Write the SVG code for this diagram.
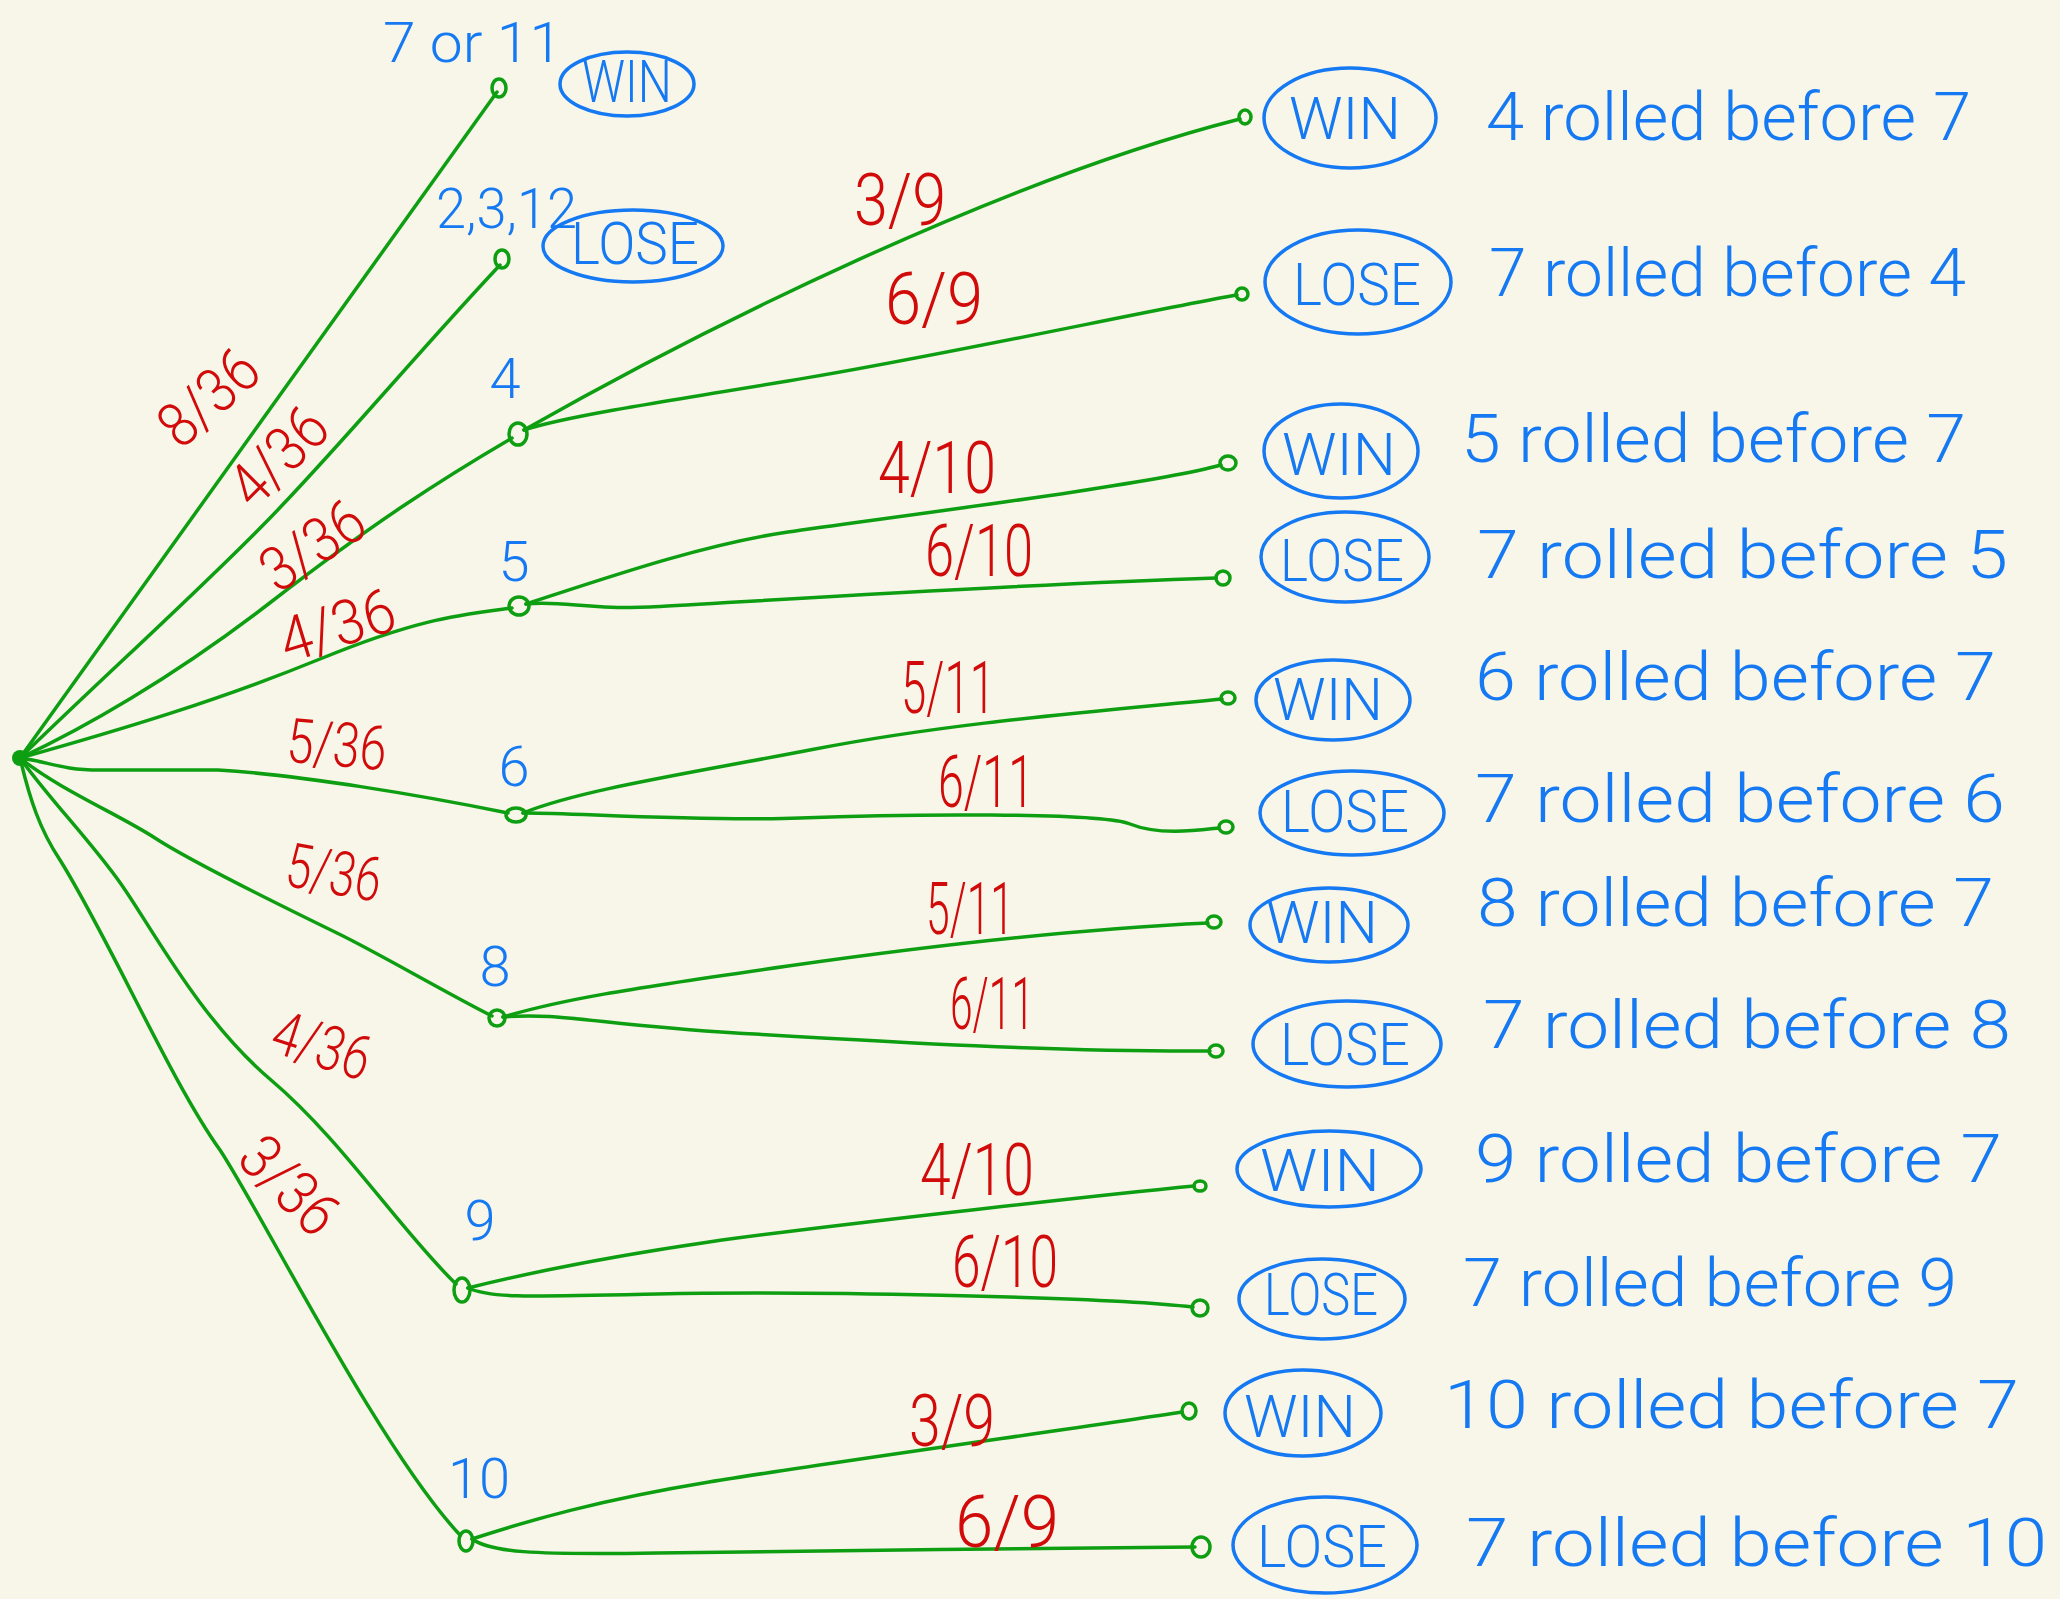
<svg xmlns="http://www.w3.org/2000/svg" width="2060" height="1599" viewBox="0 0 2060 1599">
<style>
.bg{fill:#F8F6E9}
.e{fill:none;stroke:#0E9E12;stroke-width:3.5;stroke-linecap:round;stroke-linejoin:round}
.dot{fill:none;stroke:#0E9E12;stroke-width:3.5}
.ring{fill:none;stroke:#1479F2;stroke-width:3.5}
.b{fill:#1479F2;font-family:Roboto,"Liberation Sans",Arial,sans-serif;font-weight:300}
.r{fill:#D10A0A;font-family:Roboto,"Liberation Sans",Arial,sans-serif;font-weight:300;font-size:62px}
.r2{font-size:72px}
.nl{font-size:56px}
.tag{font-size:60px;text-anchor:middle}
.desc{font-size:66px}
</style>
<rect class="bg" x="0" y="0" width="2060" height="1599"/>

<g id="connectors">
  <path class="e" d="M20,758 L497,92"/>
  <path class="e" d="M20,758 C100,680 200,590 270,518 S420,350 500,265"/>
  <path class="e" d="M20,758 C80,730 170,680 271,602 S440,480 512,438"/>
  <path class="e" d="M20,758 C120,730 220,700 320,659 S460,615 512,608"/>
  <path class="e" d="M20,758 C50,762 60,770 100,770 L218,770 C300,775 420,795 508,813"/>
  <path class="e" d="M20,758 C60,790 120,815 155,838 S300,915 339,934 S450,995 492,1016"/>
  <path class="e" d="M20,758 C50,800 90,840 121,884 S200,1020 271,1080 S400,1230 456,1284"/>
  <path class="e" d="M20,758 C30,800 40,830 60,860 C110,940 170,1080 220,1150 C260,1210 380,1450 460,1535"/>

  <path class="e" d="M524,430 C700,330 1000,180 1240,119"/>
  <path class="e" d="M524,430 C560,418 640,405 788,381 S1150,310 1237,295"/>
  <path class="e" d="M526,604 C600,580 700,545 788,532 S1150,485 1221,465"/>
  <path class="e" d="M526,604 C560,600 590,610 650,607 S1000,585 1216,578"/>
  <path class="e" d="M523,813 C580,790 680,775 815,749 S1080,713 1222,699"/>
  <path class="e" d="M523,813 C560,812 700,822 800,818 S1100,812 1130,824 S1200,830 1219,828"/>
  <path class="e" d="M503,1017 C560,1000 620,990 788,966 S1100,928 1208,923"/>
  <path class="e" d="M503,1017 C560,1012 600,1025 736,1033 S1050,1052 1210,1051"/>
  <path class="e" d="M468,1288 C540,1270 620,1255 709,1242 S1100,1195 1194,1186"/>
  <path class="e" d="M468,1288 C490,1298 520,1297 657,1294 S1100,1296 1193,1307"/>
  <path class="e" d="M472,1539 C530,1520 600,1500 709,1482 S1100,1425 1182,1412"/>
  <path class="e" d="M472,1539 C490,1552 530,1555 657,1553 S1050,1548 1195,1547"/>
</g>

<g id="edge-labels">
  <text class="r" x="208" y="419" text-anchor="middle" textLength="112" lengthAdjust="spacingAndGlyphs" transform="rotate(-42 208 397)">8/36</text>
  <text class="r" x="278" y="478" text-anchor="middle" textLength="112" lengthAdjust="spacingAndGlyphs" transform="rotate(-45 278 456)">4/36</text>
  <text class="r" x="312" y="567" text-anchor="middle" textLength="112" lengthAdjust="spacingAndGlyphs" transform="rotate(-34 312 545)">3/36</text>
  <text class="r" x="337" y="647" text-anchor="middle" textLength="118" lengthAdjust="spacingAndGlyphs" transform="rotate(-17 337 625)">4/36</text>
  <text class="r" x="337" y="766" text-anchor="middle" textLength="100" lengthAdjust="spacingAndGlyphs" transform="rotate(5 337 744)">5/36</text>
  <text class="r" x="334" y="894" text-anchor="middle" textLength="96" lengthAdjust="spacingAndGlyphs" transform="rotate(10 334 872)">5/36</text>
  <text class="r" x="322" y="1067" text-anchor="middle" textLength="100" lengthAdjust="spacingAndGlyphs" transform="rotate(18 322 1045)">4/36</text>
  <text class="r" x="290" y="1207" text-anchor="middle" textLength="112" lengthAdjust="spacingAndGlyphs" transform="rotate(45 290 1185)">3/36</text>

  <text class="r r2" x="900" y="225" text-anchor="middle" textLength="92" lengthAdjust="spacingAndGlyphs">3/9</text>
  <text class="r r2" x="934" y="324" text-anchor="middle" textLength="98" lengthAdjust="spacingAndGlyphs">6/9</text>
  <text class="r r2" x="937" y="493" text-anchor="middle" textLength="118" lengthAdjust="spacingAndGlyphs">4/10</text>
  <text class="r r2" x="979" y="576" text-anchor="middle" textLength="108" lengthAdjust="spacingAndGlyphs">6/10</text>
  <text class="r r2" x="948" y="713" text-anchor="middle" textLength="94" lengthAdjust="spacingAndGlyphs">5/11</text>
  <text class="r r2" x="986" y="807" text-anchor="middle" textLength="96" lengthAdjust="spacingAndGlyphs">6/11</text>
  <text class="r r2" x="970" y="934" text-anchor="middle" textLength="88" lengthAdjust="spacingAndGlyphs">5/11</text>
  <text class="r r2" x="992" y="1029" text-anchor="middle" textLength="84" lengthAdjust="spacingAndGlyphs">6/11</text>
  <text class="r r2" x="977" y="1195" text-anchor="middle" textLength="114" lengthAdjust="spacingAndGlyphs">4/10</text>
  <text class="r r2" x="1005" y="1287" text-anchor="middle" textLength="106" lengthAdjust="spacingAndGlyphs">6/10</text>
  <text class="r r2" x="952" y="1446" text-anchor="middle" textLength="86" lengthAdjust="spacingAndGlyphs">3/9</text>
  <text class="r r2" x="1007" y="1547" text-anchor="middle" textLength="104" lengthAdjust="spacingAndGlyphs">6/9</text>
</g>

<g id="root"><circle cx="20" cy="758" r="8" fill="#0E9E12"/></g>

<g id="n-7or11">
  <ellipse class="dot" cx="499" cy="88" rx="7" ry="9"/>
  <text class="b nl" x="383" y="62" textLength="179" lengthAdjust="spacingAndGlyphs">7 or 11</text>
  <ellipse class="ring" cx="627" cy="84" rx="67" ry="32"/>
  <text class="b tag" x="627" y="102" textLength="90" lengthAdjust="spacingAndGlyphs" font-size="50">WIN</text>
</g>
<g id="n-2-3-12">
  <ellipse class="dot" cx="502" cy="259" rx="7" ry="9"/>
  <text class="b nl" x="436" y="228" textLength="141" lengthAdjust="spacingAndGlyphs" font-size="52">2,3,12</text>
  <ellipse class="ring" cx="633" cy="246" rx="90" ry="36"/>
  <text class="b tag" x="635" y="264" textLength="128" lengthAdjust="spacingAndGlyphs" font-size="50">LOSE</text>
</g>
<g id="n-4">
  <ellipse class="dot" cx="518" cy="434" rx="9" ry="11"/>
  <text class="b nl" x="505" y="398" text-anchor="middle">4</text>
</g>
<g id="n-5">
  <ellipse class="dot" cx="519" cy="606" rx="10" ry="9"/>
  <text class="b nl" x="514" y="581" text-anchor="middle" font-size="64">5</text>
</g>
<g id="n-6">
  <ellipse class="dot" cx="516" cy="815" rx="10" ry="7"/>
  <text class="b nl" x="514" y="786" text-anchor="middle" font-size="64">6</text>
</g>
<g id="n-8">
  <ellipse class="dot" cx="497" cy="1018" rx="8" ry="8"/>
  <text class="b nl" x="495" y="986" text-anchor="middle" font-size="70">8</text>
</g>
<g id="n-9">
  <ellipse class="dot" cx="462" cy="1290" rx="8" ry="12"/>
  <text class="b nl" x="480" y="1240" text-anchor="middle" font-size="64">9</text>
</g>
<g id="n-10">
  <ellipse class="dot" cx="466" cy="1541" rx="7" ry="10"/>
  <text class="b nl" x="479" y="1498" text-anchor="middle" font-size="48">10</text>
</g>

<g id="o-4-win">
  <ellipse class="dot" cx="1245" cy="117" rx="6" ry="7"/>
  <ellipse class="ring" cx="1350" cy="118" rx="86" ry="50"/>
  <text class="b tag" x="1345" y="139" textLength="112" lengthAdjust="spacingAndGlyphs">WIN</text>
  <text class="b desc" x="1486" y="140" textLength="485" lengthAdjust="spacingAndGlyphs">4 rolled before 7</text>
</g>
<g id="o-4-lose">
  <ellipse class="dot" cx="1242" cy="294" rx="6" ry="6"/>
  <ellipse class="ring" cx="1358" cy="282" rx="93" ry="52"/>
  <text class="b tag" x="1357" y="305" textLength="128" lengthAdjust="spacingAndGlyphs">LOSE</text>
  <text class="b desc" x="1489" y="296" textLength="477" lengthAdjust="spacingAndGlyphs">7 rolled before 4</text>
</g>
<g id="o-5-win">
  <ellipse class="dot" cx="1228" cy="463" rx="8" ry="7"/>
  <ellipse class="ring" cx="1341" cy="451" rx="77" ry="47"/>
  <text class="b tag" x="1339" y="475" textLength="114" lengthAdjust="spacingAndGlyphs">WIN</text>
  <text class="b desc" x="1461" y="462" textLength="505" lengthAdjust="spacingAndGlyphs">5 rolled before 7</text>
</g>
<g id="o-5-lose">
  <ellipse class="dot" cx="1223" cy="578" rx="7" ry="7"/>
  <ellipse class="ring" cx="1345" cy="557" rx="84" ry="45"/>
  <text class="b tag" x="1342" y="581" textLength="124" lengthAdjust="spacingAndGlyphs">LOSE</text>
  <text class="b desc" x="1477" y="578" textLength="531" lengthAdjust="spacingAndGlyphs">7 rolled before 5</text>
</g>
<g id="o-6-win">
  <ellipse class="dot" cx="1228" cy="698" rx="7" ry="6"/>
  <ellipse class="ring" cx="1333" cy="700" rx="77" ry="40"/>
  <text class="b tag" x="1328" y="720" textLength="110" lengthAdjust="spacingAndGlyphs">WIN</text>
  <text class="b desc" x="1475" y="700" textLength="521" lengthAdjust="spacingAndGlyphs">6 rolled before 7</text>
</g>
<g id="o-6-lose">
  <ellipse class="dot" cx="1226" cy="827" rx="7" ry="6"/>
  <ellipse class="ring" cx="1352" cy="813" rx="92" ry="42"/>
  <text class="b tag" x="1345" y="832" textLength="128" lengthAdjust="spacingAndGlyphs">LOSE</text>
  <text class="b desc" x="1475" y="822" textLength="530" lengthAdjust="spacingAndGlyphs">7 rolled before 6</text>
</g>
<g id="o-8-win">
  <ellipse class="dot" cx="1214" cy="922" rx="7" ry="6"/>
  <ellipse class="ring" cx="1329" cy="925" rx="79" ry="37"/>
  <text class="b tag" x="1322" y="943" textLength="112" lengthAdjust="spacingAndGlyphs">WIN</text>
  <text class="b desc" x="1477" y="926" textLength="517" lengthAdjust="spacingAndGlyphs">8 rolled before 7</text>
</g>
<g id="o-8-lose">
  <ellipse class="dot" cx="1216" cy="1051" rx="7" ry="6"/>
  <ellipse class="ring" cx="1347" cy="1044" rx="94" ry="43"/>
  <text class="b tag" x="1345" y="1065" textLength="130" lengthAdjust="spacingAndGlyphs">LOSE</text>
  <text class="b desc" x="1483" y="1048" textLength="528" lengthAdjust="spacingAndGlyphs">7 rolled before 8</text>
</g>
<g id="o-9-win">
  <ellipse class="dot" cx="1200" cy="1186" rx="6" ry="5"/>
  <ellipse class="ring" cx="1329" cy="1169" rx="92" ry="38"/>
  <text class="b tag" x="1320" y="1191" textLength="120" lengthAdjust="spacingAndGlyphs">WIN</text>
  <text class="b desc" x="1475" y="1182" textLength="527" lengthAdjust="spacingAndGlyphs">9 rolled before 7</text>
</g>
<g id="o-9-lose">
  <ellipse class="dot" cx="1200" cy="1308" rx="8" ry="8"/>
  <ellipse class="ring" cx="1322" cy="1299" rx="83" ry="40"/>
  <text class="b tag" x="1321" y="1315" textLength="114" lengthAdjust="spacingAndGlyphs">LOSE</text>
  <text class="b desc" x="1463" y="1306" textLength="494" lengthAdjust="spacingAndGlyphs">7 rolled before 9</text>
</g>
<g id="o-10-win">
  <ellipse class="dot" cx="1189" cy="1411" rx="7" ry="8"/>
  <ellipse class="ring" cx="1303" cy="1413" rx="78" ry="43"/>
  <text class="b tag" x="1300" y="1437" textLength="112" lengthAdjust="spacingAndGlyphs">WIN</text>
  <text class="b desc" x="1444" y="1428" textLength="575" lengthAdjust="spacingAndGlyphs">10 rolled before 7</text>
</g>
<g id="o-10-lose">
  <ellipse class="dot" cx="1201" cy="1547" rx="9" ry="10"/>
  <ellipse class="ring" cx="1325" cy="1545" rx="92" ry="48"/>
  <text class="b tag" x="1322" y="1567" textLength="130" lengthAdjust="spacingAndGlyphs">LOSE</text>
  <text class="b desc" x="1466" y="1566" textLength="581" lengthAdjust="spacingAndGlyphs">7 rolled before 10</text>
</g>
</svg>
